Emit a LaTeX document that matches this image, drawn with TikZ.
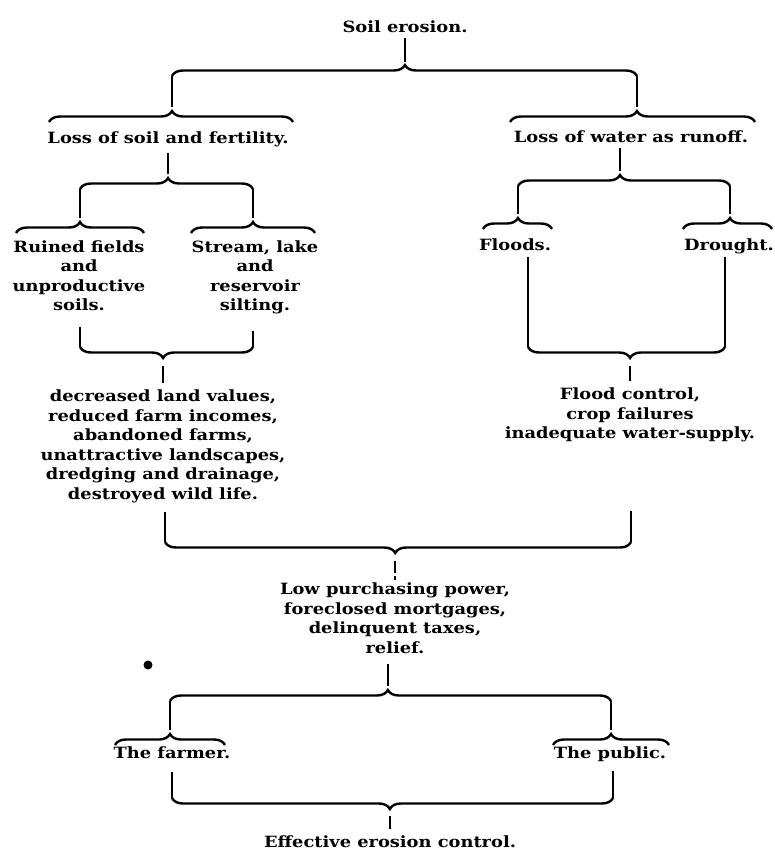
\documentclass[tikz,border=0pt]{standalone}
\usepackage{fontspec}
\setmainfont{DejaVu Serif}[FakeStretch=1.15]
\usetikzlibrary{decorations.pathreplacing}

\tikzset{
  lbl/.style={font=\fontsize{15.5}{19.5}\selectfont\bfseries, inner sep=0pt, align=center},
  stem/.style={line width=2.4pt},
  brc/.style={stem, decorate, decoration={brace, amplitude=11pt, aspect=#1}},
  brc/.default=0.5
}

\begin{document}
\begin{tikzpicture}[x=1pt,y=-1pt]
  \useasboundingbox (0,0) rectangle (775,851);

  % texts
  \node[lbl,anchor=base] (soil) at (405,33) {Soil erosion.};
  \node[lbl,anchor=base] (lossS) at (168,143) {Loss of soil and fertility.};
  \node[lbl,anchor=base] (lossW) at (631,142) {Loss of water as runoff.};
  \node[lbl,anchor=north] (ruined) at (79,240.5) {Ruined fields\\and\\unproductive\\soils.};
  \node[lbl,anchor=north] (stream) at (255,240.5) {Stream, lake\\and\\reservoir\\silting.};
  \node[lbl,anchor=base] (floods) at (515,250) {Floods.};
  \node[lbl,anchor=base] (drought) at (729,250) {Drought.};
  \node[lbl,anchor=north] (decr) at (163,390) {decreased land values,\\reduced farm incomes,\\abandoned farms,\\unattractive landscapes,\\dredging and drainage,\\destroyed wild life.};
  \node[lbl,anchor=north] (fc) at (630,388) {Flood control,\\crop failures\\inadequate water-supply.};
  \node[lbl,anchor=north] (low) at (395,583) {Low purchasing power,\\foreclosed mortgages,\\delinquent taxes,\\relief.};
  \node[lbl,anchor=base] (farmer) at (172,758) {The farmer.};
  \node[lbl,anchor=base] (public) at (610,758) {The public.};
  \node[lbl,anchor=base] (eff) at (390,847) {Effective erosion control.};

  % brace ends and tips
  \coordinate (aL) at (172,76);  \coordinate (aR) at (637,76);  \coordinate (aT) at (405,62);
  \coordinate (bL) at (49,122);  \coordinate (bR) at (293,122); \coordinate (bT) at (172,107);
  \coordinate (cL) at (510,122); \coordinate (cR) at (755,122); \coordinate (cT) at (637,107);
  \coordinate (dL) at (80,189);  \coordinate (dR) at (253,189); \coordinate (dT) at (168,174);
  \coordinate (eL) at (16,233);  \coordinate (eR) at (144,233); \coordinate (eT) at (80,218);
  \coordinate (fL) at (191,233); \coordinate (fR) at (315,233); \coordinate (fT) at (253,218);
  \coordinate (gL) at (518,186); \coordinate (gR) at (730,186); \coordinate (gT) at (620,171);
  \coordinate (hL) at (483,229); \coordinate (hR) at (552,229); \coordinate (hT) at (518,214);
  \coordinate (iL) at (683,229); \coordinate (iR) at (772,229); \coordinate (iT) at (730,214);
  \coordinate (jL) at (80,347);  \coordinate (jR) at (253,347); \coordinate (jT) at (163,366);
  \coordinate (kL) at (528,347); \coordinate (kR) at (725,347); \coordinate (kT) at (630,366);
  \coordinate (lL) at (165,542); \coordinate (lR) at (631,542); \coordinate (lT) at (395,561);
  \coordinate (mL) at (170,701); \coordinate (mR) at (611,701); \coordinate (mT) at (388,686);
  \coordinate (nL) at (115,745); \coordinate (nR) at (225,745); \coordinate (nT) at (170,730);
  \coordinate (oL) at (553,745); \coordinate (oR) at (669,745); \coordinate (oT) at (611,730);
  \coordinate (pL) at (172,798); \coordinate (pR) at (613,798); \coordinate (pT) at (390,816);

  % braces
  \draw[brc=0.501] (aL) -- (aR);
  \draw[brc=0.504] (bL) -- (bR);
  \draw[brc=0.518] (cL) -- (cR);
  \draw[brc=0.509] (dL) -- (dR);
  \draw[brc] (eL) -- (eR);
  \draw[brc] (fL) -- (fR);
  \draw[brc=0.481] (gL) -- (gR);
  \draw[brc=0.507] (hL) -- (hR);
  \draw[brc=0.528] (iL) -- (iR);
  \draw[brc=0.52] (jR) -- (jL);
  \draw[brc=0.482] (kR) -- (kL);
  \draw[brc=0.506] (lR) -- (lL);
  \draw[brc=0.494] (mL) -- (mR);
  \draw[brc] (nL) -- (nR);
  \draw[brc] (oL) -- (oR);
  \draw[brc=0.506] (pR) -- (pL);

  % stems and legs
  \draw[stem,shorten <=5pt] (soil.south -| aT) -- (aT);
  \draw[stem] (aL) -- (bT);
  \draw[stem] (aR) -- (cT);
  \draw[stem,shorten <=6pt] (lossS.south -| dT) -- (dT);
  \draw[stem,shorten <=6pt] (lossW.south -| gT) -- (gT);
  \draw[stem] (dL) -- (eT);
  \draw[stem] (dR) -- (fT);
  \draw[stem] (gL) -- (hT);
  \draw[stem] (gR) -- (iT);
  \draw[stem,shorten <=16pt] (ruined.south -| jL) -- (jL);
  \draw[stem,shorten <=16pt] (stream.south -| jR) -- (jR);
  \draw[stem,shorten <=7pt] (floods.south -| kL) -- (kL);
  \draw[stem,shorten <=3pt] (drought.south -| kR) -- (kR);
  \draw[stem,shorten >=7pt] (jT) -- (decr.north -| jT);
  \draw[stem,shorten >=7pt] (kT) -- (fc.north -| kT);
  \draw[stem,shorten <=9pt] (decr.south -| lL) -- (lL);
  \draw[stem,shorten <=68pt] (fc.south -| lR) -- (lR);
  \draw[stem,dash pattern=on 12pt off 3pt on 4pt off 20pt] (lT) -- (low.north -| lT);
  \draw[stem,shorten <=10pt] (low.south -| mT) -- (mT);
  \draw[stem] (mL) -- (nT);
  \draw[stem] (mR) -- (oT);
  \draw[stem,shorten <=14pt] (farmer.south -| pL) -- (pL);
  \draw[stem,shorten <=10pt] (public.south -| pR) -- (pR);
  \draw[stem,shorten >=6pt] (pT) -- (eff.north -| pT);

  \fill (148,665) circle (4.5pt);
\end{tikzpicture}
\end{document}
